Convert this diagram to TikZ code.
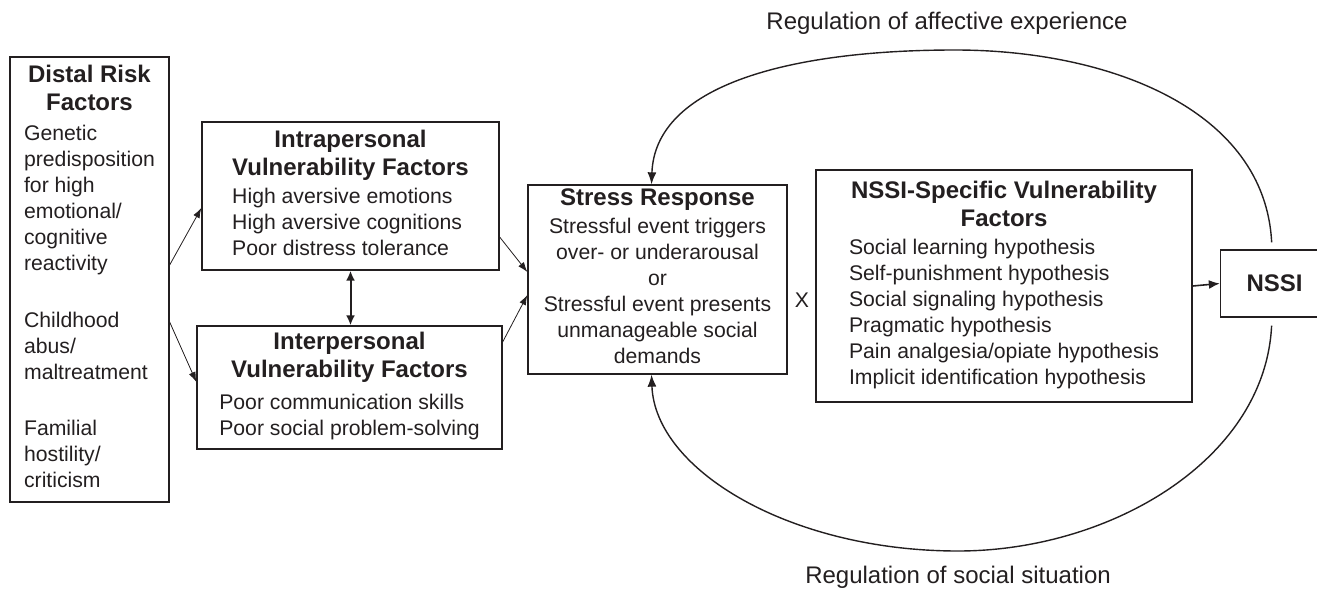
\documentclass[tikz,border=0pt]{standalone}
\usepackage{fontspec}
\setmainfont{Liberation Sans}
\usetikzlibrary{arrows.meta}
\definecolor{ink}{HTML}{231F20}
\newcommand{\ttl}[1]{{\fontsize{12}{14}\selectfont\bfseries #1}}
\newcommand{\head}[1]{\multicolumn{1}{@{}c@{}}{\ttl{#1}}}
\tikzstyle{every node}=[text=ink,font=\fontsize{10.6}{13}\selectfont]
\tikzstyle{box}=[draw=ink,line width=0.65pt,inner sep=0pt,align=center]
\tikzstyle{lbl}=[font=\fontsize{12}{14}\selectfont]
\tikzstyle{link}=[draw=ink,line width=0.4pt,-{Latex[length=5pt,width=3.5pt]}]
\tikzstyle{both}=[draw=ink,line width=1pt,{Latex[length=5pt,width=4.5pt]}-{Latex[length=5pt,width=4.5pt]}]
\tikzstyle{main}=[draw=ink,line width=0.8pt,-{Latex[length=5.5pt,width=4.5pt]}]
\tikzstyle{feedback}=[draw=ink,line width=0.7pt,-{Latex[length=6pt,width=4.5pt]}]

\begin{document}
\begin{tikzpicture}[x=0.5pt,y=-0.5pt]
  \useasboundingbox (0,0) rectangle (1317,589);

  % boxes
  \node[box,minimum width=79.5pt,minimum height=222.5pt] (distal) at (89.5,279.5) {%
    \begin{tabular}{@{}l@{}}
      \head{Distal Risk}\\[1pt]
      \head{Factors}\\[2pt]
      Genetic\\ predisposition\\ for high\\ emotional/\\ cognitive\\ reactivity\\[15.5pt]
      Childhood\\ abus/\\ maltreatment\\[15pt]
      Familial\\ hostility/\\ criticism
    \end{tabular}};
  \node[box,minimum width=148.5pt,minimum height=74pt] (intra) at (350.5,196) {%
    \begin{tabular}{@{}l@{}}
      \head{Intrapersonal}\\[1pt]
      \head{Vulnerability Factors}\\[1pt]
      High aversive emotions\\ High aversive cognitions\\ Poor distress tolerance
    \end{tabular}};
  \node[box,minimum width=152.5pt,minimum height=61.5pt] (inter) at (349.5,387.5) {%
    \begin{tabular}{@{}l@{}}
      \head{Interpersonal}\\[1pt]
      \head{Vulnerability Factors}\\[3pt]
      Poor communication skills\\ Poor social problem-solving
    \end{tabular}};
  \node[box,minimum width=129.5pt,minimum height=94.5pt] (stress) at (657.5,279.5) {%
    \begin{tabular}{@{}c@{}}
      \ttl{Stress Response}\\[1pt]
      Stressful event triggers\\ over- or underarousal\\ or\\
      Stressful event presents\\ unmanageable social\\ demands
    \end{tabular}};
  \node (times) at (802,300) {X};
  \node[box,minimum width=188pt,minimum height=116pt] (spec) at (1004,286) {%
    \begin{tabular}{@{}l@{}}
      \head{NSSI-Specific Vulnerability}\\[1pt]
      \head{Factors}\\[1pt]
      Social learning hypothesis\\ Self-punishment hypothesis\\
      Social signaling hypothesis\\ Pragmatic hypothesis\\
      Pain analgesia/opiate hypothesis\\ Implicit identification hypothesis
    \end{tabular}};
  \node[box,minimum width=54pt,minimum height=33.5pt] (nssi) at (1274.5,283.5) {\ttl{NSSI}};

  % labels of the loops
  \node[lbl] (affect) at (947,23) {Regulation of affective experience};
  \node[lbl] (social) at (958,577) {Regulation of social situation};

  % arrows
  \draw[link] ([yshift=7.25pt]distal.east) -- ([yshift=-6pt]intra.west);
  \draw[link] ([yshift=-21.25pt]distal.east) -- ([yshift=2.75pt]inter.west);
  \draw[link] ([yshift=-20.5pt]intra.east) -- ([yshift=3.75pt]stress.west);
  \draw[link] ([yshift=22.75pt]inter.east) -- ([yshift=-7.75pt]stress.west);
  \draw[both] (intra.south) -- (intra.south |- inter.north);
  \draw[main] (spec.east) -- (nssi.west);
  \draw[feedback,shorten <=3.5pt] ([xshift=-1.25pt]nssi.north) .. controls (1265,110) and (1110,50) .. (955,50)
    .. controls (790,50) and (655,85) .. ([xshift=-3pt]stress.north);
  \draw[feedback,shorten <=4pt] ([xshift=-1.25pt]nssi.south) .. controls (1265,460) and (1110,551) .. (958,551)
    .. controls (790,551) and (655,470) .. ([xshift=-3pt]stress.south);
\end{tikzpicture}
\end{document}
